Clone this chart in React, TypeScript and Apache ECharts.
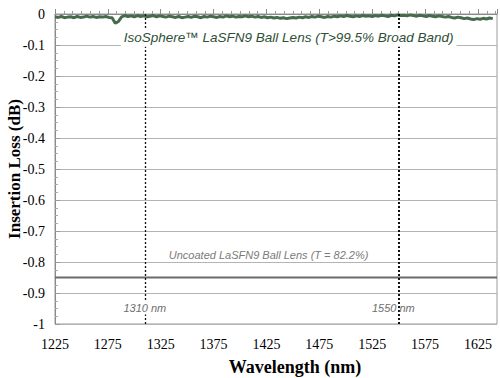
import React, { useEffect, useRef } from 'react';
import * as echarts from 'echarts';

// Coated (IsoSphere) insertion loss, sampled every 3 nm starting at 1225 nm
const coatedStartNm = 1225;
const coatedStepNm = 3;
const coatedLoss = [
  -0.009, -0.011, -0.008, -0.012, -0.010, -0.009, -0.012, -0.008, -0.011, -0.010,
  -0.007, -0.010, -0.008, -0.011, -0.009, -0.010, -0.008, -0.011, -0.012, -0.030,
  -0.024, -0.009, -0.005, -0.008, -0.006, -0.009, -0.005, -0.008, -0.006, -0.009,
  -0.007, -0.005, -0.009, -0.006, -0.008, -0.010, -0.007, -0.009, -0.011, -0.008,
  -0.012, -0.010, -0.008, -0.011, -0.007, -0.009, -0.012, -0.008, -0.010, -0.007,
  -0.009, -0.011, -0.008, -0.010, -0.006, -0.009, -0.007, -0.010, -0.008, -0.009,
  -0.006, -0.009, -0.007, -0.010, -0.008, -0.011, -0.009, -0.012, -0.010, -0.013,
  -0.011, -0.014, -0.012, -0.015, -0.013, -0.011, -0.013, -0.010, -0.012, -0.009,
  -0.011, -0.008, -0.010, -0.007, -0.009, -0.011, -0.008, -0.010, -0.007, -0.009,
  -0.006, -0.008, -0.005, -0.007, -0.009, -0.006, -0.008, -0.005, -0.007, -0.006,
  -0.008, -0.005, -0.007, -0.004, -0.006, -0.008, -0.004, -0.006, -0.003, -0.005,
  -0.004, -0.006, -0.003, -0.005, -0.007, -0.004, -0.006, -0.008, -0.005, -0.007,
  -0.009, -0.006, -0.008, -0.010, -0.008, -0.011, -0.013, -0.010, -0.012, -0.015,
  -0.013, -0.016, -0.018, -0.015, -0.017, -0.014, -0.016, -0.013, -0.015,
];

// Uncoated LaSFN9 ball lens loss (flat)
const uncoatedWavelengths = [1225, 1643];
const uncoatedLoss = [-0.85, -0.85];

// Wavelength markers
const markerWavelengths = [1310, 1550];
const markerLabels = ['1310 nm', '1550 nm'];
const markerLabelLoss = [-0.948, -0.948];
const markerLabelOffsetNm = [0, -5];
const markerLabelMasked = [true, false];

// Axis setup
const xMinNm = 1225;
const xMaxNm = 1643;
const xTickStepNm = 50;
const yMin = -1;
const yMax = 0;
const yTickStep = 0.1;

// Annotations
const coatedTitle = 'IsoSphere™ LaSFN9 Ball Lens (T>99.5% Broad Band)';
const coatedTitlePos = [1446, -0.077];
const uncoatedTitle = 'Uncoated LaSFN9 Ball Lens (T = 82.2%)';
const uncoatedTitlePos = [1427, -0.778];
const xAxisTitle = 'Wavelength (nm)';
const yAxisTitle = 'Insertion Loss (dB)';

export default function App() {
  const ref = useRef<HTMLDivElement>(null);

  useEffect(() => {
    if (!ref.current) return;
    const chart = echarts.init(ref.current, undefined, { renderer: 'svg' });

    const toX = (nm: number) => nm - xMinNm;
    const coatedData = coatedLoss.map((v, i) => [toX(coatedStartNm + i * coatedStepNm), v]);
    const uncoatedData = uncoatedWavelengths.map((w, i) => [toX(w), uncoatedLoss[i]]);

    const serif = "'Liberation Serif', 'DejaVu Serif', serif";
    const sans = "'Liberation Sans', Arial, sans-serif";

    chart.setOption({
      animation: false,
      textStyle: { fontFamily: serif },
      grid: {
        left: 55,
        right: 3,
        top: 14,
        bottom: 54,
        show: true,
        borderColor: '#9a9a9a',
        borderWidth: 1,
        backgroundColor: 'transparent',
      },
      xAxis: {
        type: 'value',
        min: 0,
        max: xMaxNm - xMinNm,
        interval: xTickStepNm,
        axisLine: { show: true, lineStyle: { color: '#8a8a8a', width: 1 } },
        axisTick: { show: true, inside: true, length: 5, lineStyle: { color: '#8a8a8a' } },
        minorTick: { show: true, splitNumber: 6, length: 3, lineStyle: { color: '#9a9a9a' } },
        splitLine: { show: false },
        axisLabel: {
          color: '#000',
          fontFamily: serif,
          fontSize: 14,
          margin: 13,
          showMaxLabel: false,
          formatter: (v: number) => (Math.abs(v % xTickStepNm) < 1e-6 ? String(v + xMinNm) : ''),
        },
      },
      yAxis: {
        type: 'value',
        min: yMin,
        max: yMax,
        interval: yTickStep,
        axisLine: { show: true, lineStyle: { color: '#8a8a8a', width: 1 } },
        axisTick: { show: true, inside: true, length: 5, lineStyle: { color: '#9a9a9a' } },
        minorTick: { show: true, splitNumber: 4, length: 3, lineStyle: { color: '#aaaaaa' } },
        splitLine: { show: true, lineStyle: { color: '#b4b4b4', width: 1 } },
        axisLabel: {
          color: '#000',
          fontFamily: serif,
          fontSize: 14,
          margin: 10,
          formatter: (v: number) => {
            const r = Math.round(v * 10) / 10;
            if (r === 0) return '0';
            if (r === -1) return '-1';
            return r.toFixed(1);
          },
        },
      },
      series: [
        {
          type: 'line',
          name: 'Uncoated',
          data: uncoatedData,
          showSymbol: false,
          lineStyle: { color: '#6a6a6a', width: 2.2 },
          z: 3,
        },
        {
          type: 'line',
          name: 'IsoSphere',
          data: coatedData,
          showSymbol: false,
          lineStyle: { color: '#466b4c', width: 3 },
          z: 4,
          markLine: {
            symbol: 'none',
            silent: true,
            label: { show: false },
            lineStyle: { color: '#111', type: [2, 2], width: 1.3 },
            data: markerWavelengths.map((w, i) => ({
              xAxis: toX(w),
              lineStyle: { width: i === 1 ? 2 : 1.3 },
            })),
          },
        },
      ],
    });

    const px = (nm: number, v: number) => chart.convertToPixel({ gridIndex: 0 }, [toX(nm), v]) as number[];

    const cT = px(coatedTitlePos[0], coatedTitlePos[1]);
    const uT = px(uncoatedTitlePos[0], uncoatedTitlePos[1]);
    const gridRect = { left: 55, right: 497, top: 14, bottom: 324 };

    const graphics: any[] = [
      {
        type: 'text',
        x: cT[0],
        y: cT[1],
        z: 10,
        style: {
          text: coatedTitle,
          font: `italic 13.5px ${sans}`,
          fill: '#2f4f36',
          align: 'center',
          verticalAlign: 'middle',
          backgroundColor: '#fff',
          padding: [2, 3],
        },
      },
      {
        type: 'text',
        x: uT[0],
        y: uT[1],
        z: 10,
        style: {
          text: uncoatedTitle,
          font: `italic 11px ${sans}`,
          fill: '#7a7a7a',
          align: 'center',
          verticalAlign: 'middle',
        },
      },
      {
        type: 'text',
        x: (gridRect.left + gridRect.right) / 2 + 19,
        y: 367,
        style: {
          text: xAxisTitle,
          font: `bold 18px ${serif}`,
          fill: '#000',
          align: 'center',
          verticalAlign: 'middle',
        },
      },
      {
        type: 'text',
        x: 14,
        y: (gridRect.top + gridRect.bottom) / 2,
        rotation: Math.PI / 2,
        style: {
          text: yAxisTitle,
          font: `bold 17px ${serif}`,
          fill: '#000',
          align: 'center',
          verticalAlign: 'middle',
        },
      },
    ];

    markerWavelengths.forEach((w, i) => {
      const p = px(w + markerLabelOffsetNm[i], markerLabelLoss[i]);
      const style: any = {
        text: markerLabels[i],
        font: `italic 11px ${sans}`,
        fill: '#6e6e6e',
        align: 'center',
        verticalAlign: 'middle',
      };
      if (markerLabelMasked[i]) {
        style.backgroundColor = '#fff';
        style.padding = [1, 1];
      }
      graphics.push({ type: 'text', x: p[0], y: p[1], z: 10, style });
    });

    chart.setOption({ graphic: graphics });

    return () => chart.dispose();
  }, []);

  return <div ref={ref} style={{ width: 500, height: 378, position: 'absolute', left: 0, top: 0 }} />;
}
